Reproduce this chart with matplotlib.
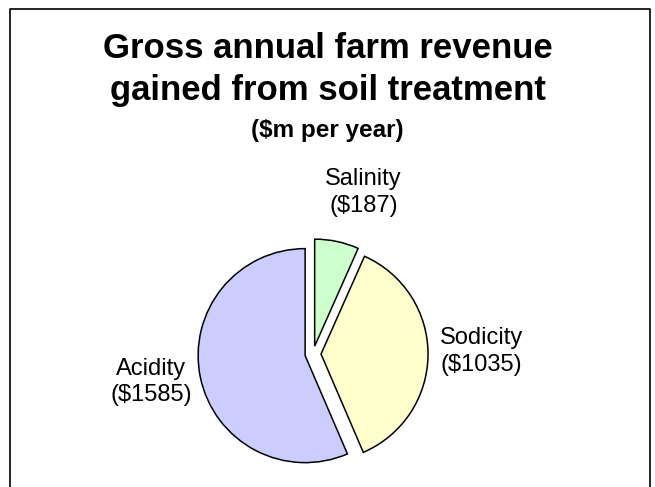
import matplotlib
matplotlib.use("Agg")
import matplotlib.pyplot as plt
from matplotlib.lines import Line2D

# data
categories = ["Salinity", "Sodicity", "Acidity"]
revenue = [187, 1035, 1585]  # $m per year
colors = ["#CCFFCC", "#FFFFCC", "#CCCCFF"]
labels = [f"{c}\n(${v})" for c, v in zip(categories, revenue)]

plt.rcParams['font.family'] = ['Liberation Sans', 'DejaVu Sans']

W, H = 655, 487
fig = plt.figure(figsize=(W / 100, H / 100), dpi=100)

# axes spanning the whole figure, 1 data unit = pie radius (~107 px)
r_px = 107
cx, cy = 313, 354  # pie centre in pixels (from top-left)
ax = fig.add_axes([0, 0, 1, 1])

wedges, texts = ax.pie(revenue, labels=labels, colors=colors,
                       startangle=90, counterclock=False,
                       explode=[0.075] * 3, radius=1,
                       labeldistance=1.47,
                       wedgeprops=dict(edgecolor='black', linewidth=1.1),
                       textprops=dict(fontsize=17, linespacing=1.28))
# pie() resets limits, so set them afterwards
ax.set_aspect('auto')
ax.set_xlim(-cx / r_px, (W - cx) / r_px)
ax.set_ylim(-(H - cy) / r_px, cy / r_px)
ax.axis('off')

# Excel-like label placement tweaks (radius units)
label_nudge = [(0.15, 0.0), (0.03, 0.03), (0.0, 0.05)]
for t, (dx, dy) in zip(texts, label_nudge):
    x, y = t.get_position()
    t.set_position((x + dx, y + dy))
    t.set_ha('center')
    t.set_va('center')

# titles
fig.text(0.5, 1 - 58 / H, "Gross annual farm revenue", ha='center',
         va='baseline', fontsize=25, fontweight='bold')
fig.text(0.5, 1 - 100 / H, "gained from soil treatment", ha='center',
         va='baseline', fontsize=25, fontweight='bold')
fig.text(0.5, 1 - 137 / H, "($m per year)", ha='center',
         va='baseline', fontsize=17.5, fontweight='bold')

# chart frame (open at the bottom)
xl, xr, yt = 10 / W, 650 / W, 1 - 9 / H
fig.add_artist(Line2D([xl, xl, xr, xr], [0, yt, yt, 0],
                      transform=fig.transFigure, color='black', linewidth=1.2))

fig.savefig("out.png", dpi=100)
